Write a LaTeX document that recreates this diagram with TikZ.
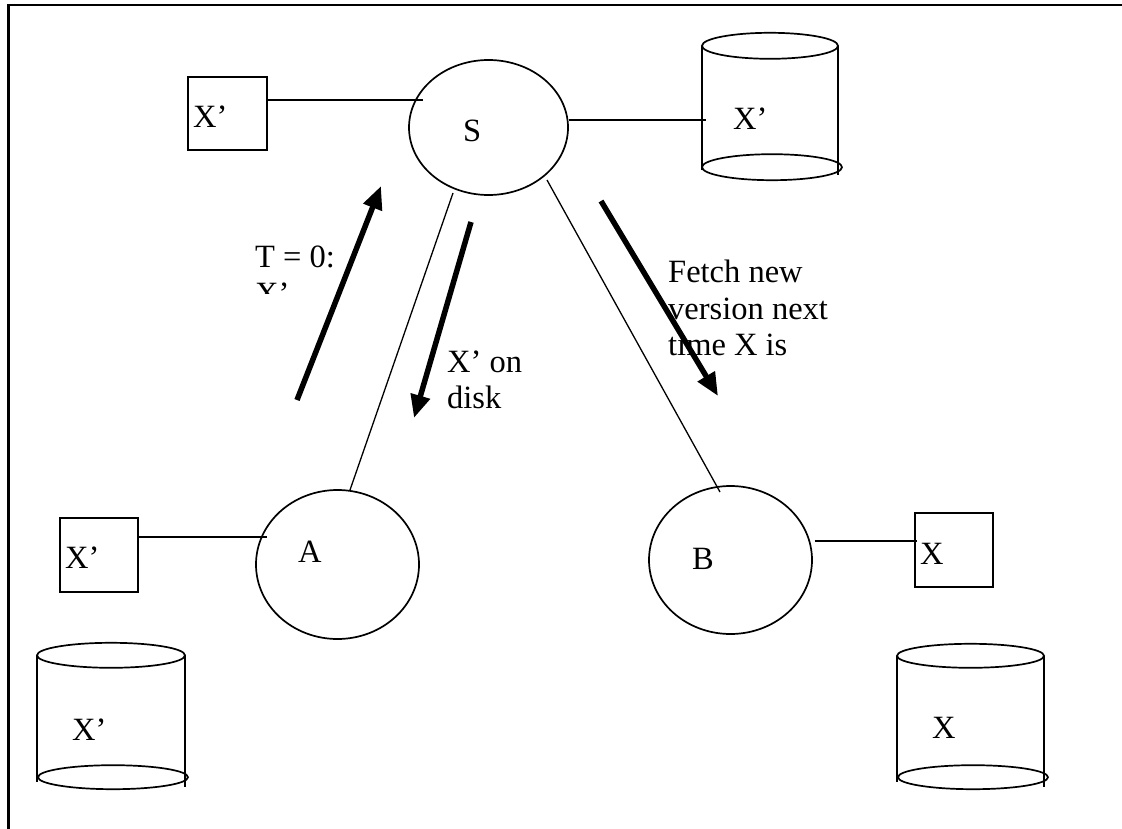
\documentclass[tikz,border=0pt]{standalone}
\usepackage{fontspec}
\setmainfont{Liberation Serif}
\usetikzlibrary{arrows.meta,shapes.geometric}
\begin{document}
\begin{tikzpicture}[x=1pt,y=-1pt,
  thin line/.style={line width=1.7pt},
  proc/.style={draw,ellipse,line width=1.7pt,inner sep=0pt},
  cache/.style={draw,rectangle,line width=1.7pt,inner sep=0pt},
  body/.style={rectangle,inner sep=0pt},
  lbl/.style={anchor=base west,inner sep=0pt,font=\fontsize{32.5}{36}\selectfont},
  bigarrow/.style={line width=5.5pt,-{Triangle[length=23pt,width=19pt]}}]
\useasboundingbox (0,0) rectangle (1122,829);
\draw[line width=2.7pt] (8.5,829) -- (8.5,5) -- (1122,5);

% servers
\node[proc,minimum width=159pt,minimum height=135pt] (S) at (488.5,127.5) {};
\node[proc,minimum width=163pt,minimum height=149pt] (A) at (337.5,564.5) {};
\node[proc,minimum width=163pt,minimum height=148pt] (B) at (730.5,560) {};
\node[lbl] (lS) at (463,142) {S};
\node[lbl] (lA) at (298,562) {A};
\node[lbl] (lB) at (692,569) {B};

% caches
\node[cache,minimum width=79pt,minimum height=73pt] (cS) at (227.5,113.5) {};
\node[cache,minimum width=78pt,minimum height=74pt] (cA) at (99,555) {};
\node[cache,minimum width=78pt,minimum height=74pt] (cB) at (954,550) {};
\node[lbl] (lcS) at (193,128) {X’};
\node[lbl] (lcA) at (65,568) {X’};
\node[lbl] (lcB) at (920,564) {X};

% disks
\node[body,minimum width=136pt,minimum height=121pt] (dS) at (770,106.5) {};
\node[body,minimum width=148pt,minimum height=121.5pt] (dA) at (111,716.25) {};
\node[body,minimum width=147pt,minimum height=121pt] (dB) at (970.5,716.5) {};
\begin{scope}[thin line]
  % disk S
  \draw (dS.north) ellipse [x radius=68pt,y radius=13pt];
  \draw ([xshift=2pt]dS.south) ellipse [x radius=70pt,y radius=13pt];
  \draw (dS.north west) -- ([yshift=-3pt]dS.south west);
  \draw (dS.north east) -- ([yshift=-8pt]dS.south east);
  % disk A
  \draw (dA.north) ellipse [x radius=74pt,y radius=12.5pt];
  \draw ([xshift=2pt]dA.south) ellipse [x radius=75pt,y radius=12pt];
  \draw (dA.north west) -- ([yshift=-5pt]dA.south west);
  \draw (dA.north east) -- ([yshift=-10pt]dA.south east);
  % disk B
  \draw (dB.north) ellipse [x radius=73.5pt,y radius=12pt];
  \draw ([xshift=2.5pt]dB.south) ellipse [x radius=75pt,y radius=12pt];
  \draw (dB.north west) -- ([yshift=-5pt]dB.south west);
  \draw (dB.north east) -- ([yshift=-10pt]dB.south east);
\end{scope}
\node[lbl] (ldS) at (733,130) {X’};
\node[lbl] (ldA) at (72,740) {X’};
\node[lbl] (ldB) at (932,738) {X};

% connectors
\begin{scope}[thin line]
  \draw ([yshift=13.5pt]cS.east) -- ([shift={(-65.5pt,27.5pt)}]S.center);
  \draw ([yshift=7.5pt]S.east) -- ([shift={(4pt,-13.5pt)}]dS.west);
  \draw ([yshift=18pt]cA.east) -- ([shift={(-70.5pt,27.5pt)}]A.center);
  \draw ([shift={(2pt,19pt)}]B.east) -- ([shift={(3pt,9pt)}]cB.west);
  \draw[line width=1.3pt] ([shift={(-35.5pt,-65.5pt)}]S.center) -- ([shift={(12.5pt,74.5pt)}]A.center);
  \draw[line width=1.3pt] ([shift={(58.5pt,-52.5pt)}]S.center) -- ([shift={(-10.5pt,68pt)}]B.center);
\end{scope}

% message arrows
\coordinate (a1s) at (297,400);
\coordinate (a1e) at (381,186);
\coordinate (a2s) at (471,222);
\coordinate (a2e) at (414,418);
\coordinate (a3s) at (601,201);
\coordinate (a3e) at (718,396);
\draw[bigarrow] (a1s) -- (a1e);
\draw[bigarrow] (a2s) -- (a2e);
\draw[bigarrow] (a3s) -- (a3e);

% labels
\begin{scope}
  \clip (240,230) rectangle (340,293);
  \node[lbl,align=left] (t0) at (255,268) {T = 0:};
  \node[lbl] (t0b) at (255,304) {X’};
\end{scope}
\node[lbl] (m1) at (447,372) {X’ on};
\node[lbl] (m2) at (447,408) {disk};
\node[lbl] (f1) at (668,283) {Fetch new};
\node[lbl] (f2) at (668,319) {version next};
\node[lbl] (f3) at (668,355) {time X is};
\end{tikzpicture}
\end{document}
